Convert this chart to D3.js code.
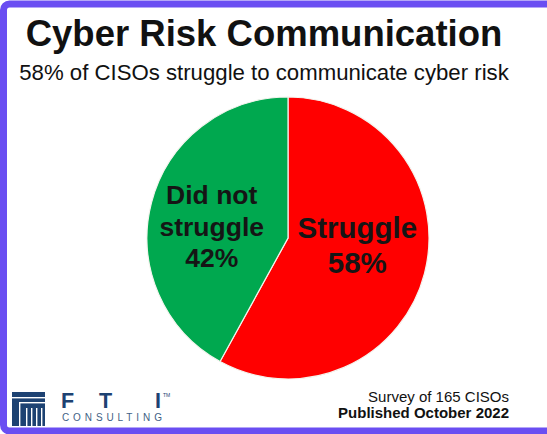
<!DOCTYPE html>
<html>
<head>
<meta charset="utf-8">
<script src="https://cdn.jsdelivr.net/npm/d3@7/dist/d3.min.js"></script>
<style>
  html, body { margin: 0; padding: 0; background: #fff; }
  svg { display: block; }
  text { font-family: "Liberation Sans", Arial, Helvetica, sans-serif; }
</style>
</head>
<body>
<svg id="chart" width="547" height="434"></svg>
<script>
// ---- data ----
const categories = ["Struggle", "Did not struggle"];
const values = [58, 42];
const labelLines = [["Struggle", "58%"], ["Did not", "struggle", "42%"]];
const title = "Cyber Risk Communication";
const subtitle = "58% of CISOs struggle to communicate cyber risk";
const footnotes = ["Survey of 165 CISOs", "Published October 2022"];

// ---- styles / layout ----
const W = 547, H = 434;
const cx = 288, cy = 238, R = 141;
const colors = d3.scaleOrdinal().domain(categories).range(["#ff0000", "#00a84f"]);
const labelStyle = {
  "Struggle": { size: 29.5, lh: 35, dx: 1, dy: -18 },
  "Did not struggle": { size: 26.5, lh: 31.5, dx: -8, dy: -16 }
};

const svg = d3.select("#chart");
svg.append("rect").attr("width", W).attr("height", H).attr("fill", "#fff");

// border (right side cut off)
svg.append("rect")
  .attr("x", 3.5).attr("y", 4).attr("width", W + 20).attr("height", 427)
  .attr("rx", 6)
  .attr("fill", "none").attr("stroke", "#6a4ef2").attr("stroke-width", 7);

// title & subtitle
svg.append("text").attr("x", 264).attr("y", 46).attr("text-anchor", "middle")
  .attr("font-size", 36.5).attr("font-weight", "bold").attr("fill", "#111")
  .text(title);
svg.append("text").attr("x", 264).attr("y", 80).attr("text-anchor", "middle")
  .attr("font-size", 22.2).attr("fill", "#111")
  .text(subtitle);

// pie
const pie = d3.pie().sort(null).value(d => d.value);
const data = pie(categories.map((c, i) => ({ cat: c, value: values[i], lines: labelLines[i] })));
const arc = d3.arc().innerRadius(0).outerRadius(R);
const labelArc = d3.arc().innerRadius(0).outerRadius(R);

const g = svg.append("g").attr("transform", `translate(${cx},${cy})`);
g.selectAll("path").data(data).join("path")
  .attr("d", arc)
  .attr("fill", d => colors(d.data.cat))
  .attr("stroke", "#f4f4ee").attr("stroke-width", 1.2);

g.selectAll("text.lbl").data(data).join("text")
  .attr("class", "lbl")
  .attr("text-anchor", "middle")
  .attr("font-weight", "bold")
  .attr("fill", "#151515")
  .attr("font-size", d => labelStyle[d.data.cat].size)
  .each(function(d) {
    const c = labelArc.centroid(d);
    const st = labelStyle[d.data.cat];
    const t = d3.select(this);
    d.data.lines.forEach((ln, i) => {
      t.append("tspan")
        .attr("x", c[0] + st.dx)
        .attr("y", c[1] + st.dy + i * st.lh)
        .text(ln);
    });
  });

// footnotes
svg.append("text").attr("x", 509).attr("y", 402).attr("text-anchor", "end")
  .attr("font-size", 15).attr("fill", "#111").text(footnotes[0]);
svg.append("text").attr("x", 509).attr("y", 418).attr("text-anchor", "end")
  .attr("font-size", 15).attr("font-weight", "bold").attr("fill", "#111").text(footnotes[1]);

// FTI Consulting logo
const logo = svg.append("g");
const navy = "#1d4272";
logo.append("rect").attr("x", 12).attr("y", 392).attr("width", 33).attr("height", 34).attr("fill", navy);
logo.append("rect").attr("x", 12).attr("y", 397).attr("width", 33).attr("height", 1.4).attr("fill", "#fff");
logo.append("rect").attr("x", 19).attr("y", 402).attr("width", 26).attr("height", 1.4).attr("fill", "#fff");
logo.append("rect").attr("x", 19).attr("y", 402).attr("width", 1.4).attr("height", 24).attr("fill", "#fff");
[26, 31, 36, 41].forEach(x => {
  logo.append("rect").attr("x", x).attr("y", 408).attr("width", 1.4).attr("height", 18).attr("fill", "#fff");
});
[["F", 61], ["T", 99], ["I", 155]].forEach(([ch, x]) => {
  logo.append("text").attr("x", x).attr("y", 408).attr("font-size", 21.5)
    .attr("font-weight", "bold").attr("fill", navy).text(ch);
});
logo.append("text").attr("x", 163).attr("y", 397).attr("font-size", 5).attr("fill", navy).text("TM");
logo.append("text").attr("x", 62).attr("y", 421).attr("font-size", 10)
  .attr("letter-spacing", 3.9).attr("fill", "#3f5f86").text("CONSULTING");
</script>
</body>
</html>
